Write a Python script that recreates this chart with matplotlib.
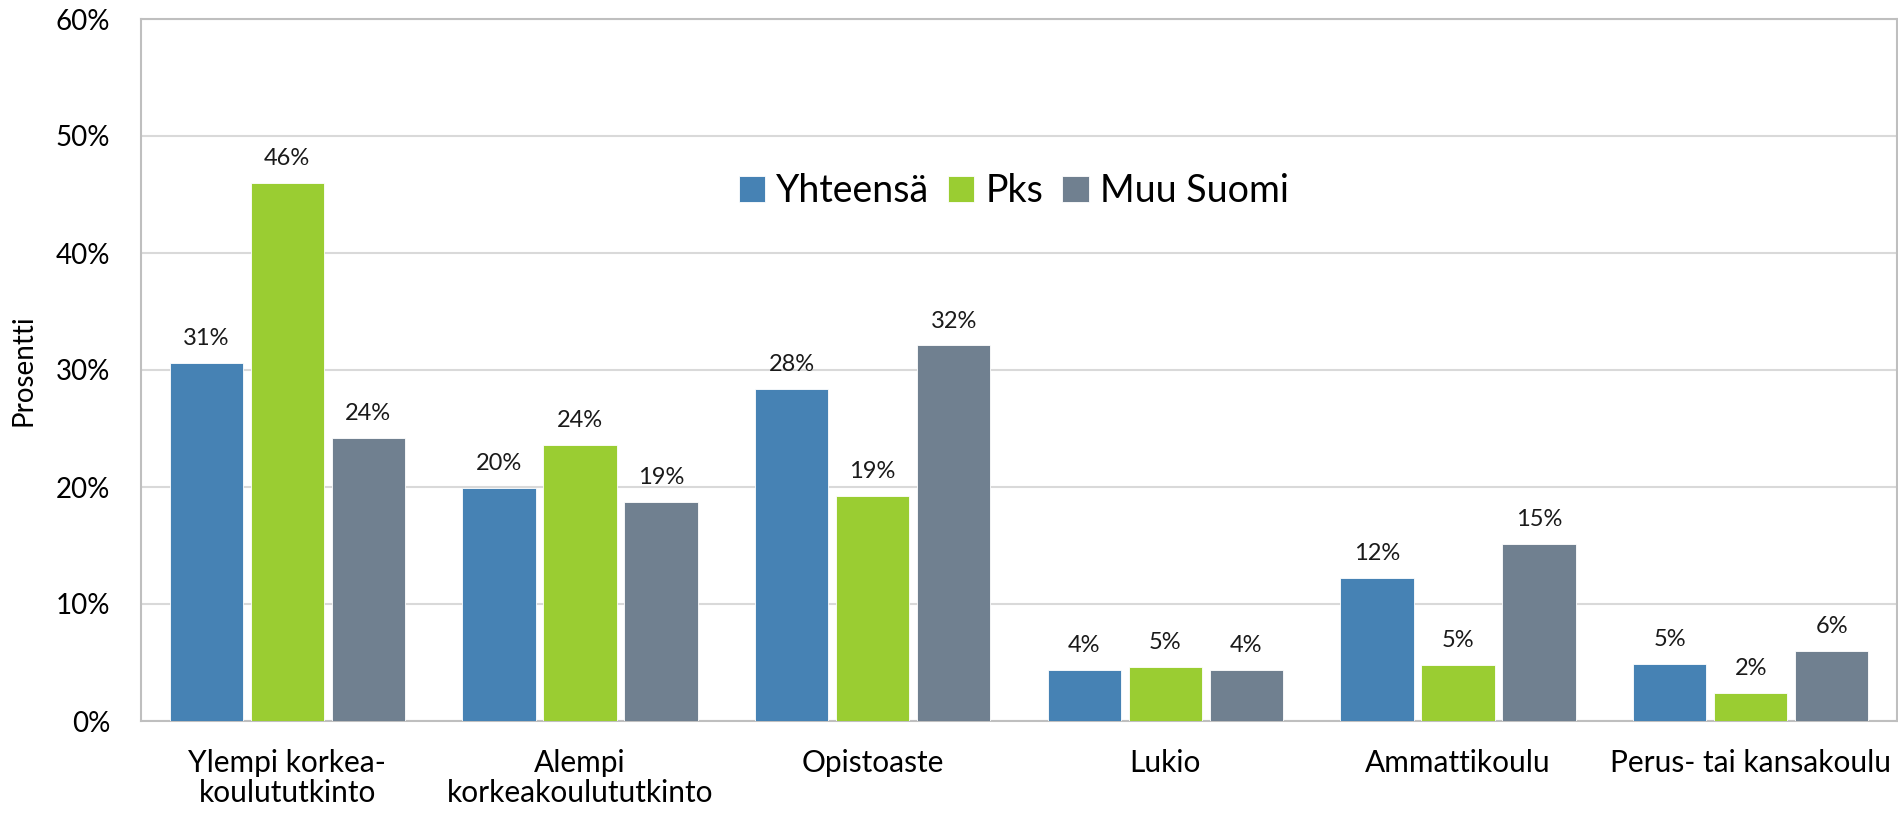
import matplotlib
matplotlib.use("Agg")
import matplotlib.pyplot as plt
import numpy as np
from matplotlib.ticker import FuncFormatter

categories = [
    "Ylempi korkea-\nkoulututkinto",
    "Alempi\nkorkeakoulututkinto",
    "Opistoaste",
    "Lukio",
    "Ammattikoulu",
    "Perus- tai kansakoulu",
]
series_names = ["Yhteensä", "Pks", "Muu Suomi"]
yhteensa = [30.6, 19.9, 28.4, 4.4, 12.2, 4.9]
pks = [46.0, 23.6, 19.2, 4.6, 4.8, 2.4]
muu_suomi = [24.2, 18.7, 32.1, 4.4, 15.1, 6.0]
colors = ["#4682B4", "#9ACD32", "#708090"]

plt.rcParams["font.family"] = ["Lato", "DejaVu Sans"]

fig = plt.figure(figsize=(18.98, 8.14), dpi=100)
ax = fig.add_axes([141 / 1898, 93 / 814, 1756 / 1898, 702 / 814])

x = np.arange(len(categories))
step = 0.277
width = 0.25
for i, (name, vals) in enumerate(zip(series_names, [yhteensa, pks, muu_suomi])):
    bars = ax.bar(x + (i - 1) * step, vals, width, color=colors[i], label=name,
                  edgecolor="white", linewidth=0.6, zorder=3)
    for b, v in zip(bars, vals):
        ax.annotate(f"{v:.0f}%", (b.get_x() + b.get_width() / 2, v),
                    xytext=(0, 10), textcoords="offset points",
                    ha="center", va="bottom", fontsize=17, color="#1a1a1a")

ax.set_xlim(-0.5, len(categories) - 0.5)
ax.set_ylim(0, 60)
ax.set_yticks(range(0, 61, 10))
ax.yaxis.set_major_formatter(FuncFormatter(lambda v, _: f"{v:.0f}%"))
ax.set_xticks(x)
ax.set_xticklabels(categories, fontsize=21.5, linespacing=1.1)
ax.tick_params(axis="y", labelsize=20, length=0, pad=22)
ax.tick_params(axis="x", length=0, pad=20)
ax.grid(axis="y", color="#d9d9d9", linewidth=1.5, zorder=0)

for side in ["left", "right", "bottom", "top"]:
    ax.spines[side].set_color("#bfbfbf")
    ax.spines[side].set_linewidth(1.5)

ax.set_ylabel("Prosentti", fontsize=20, labelpad=14)

ax.legend(loc="center", bbox_to_anchor=(0.497, 0.755), ncol=3, frameon=False,
          fontsize=27, handlelength=0.7, handleheight=0.7, handletextpad=0.3,
          columnspacing=0.5)

fig.savefig("out.png", dpi=100)
